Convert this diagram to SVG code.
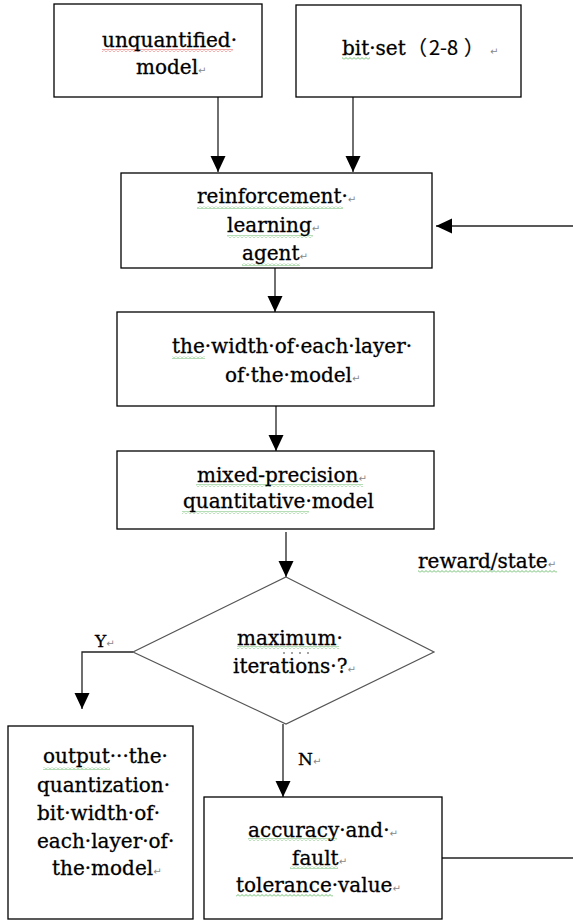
<svg xmlns="http://www.w3.org/2000/svg" width="573" height="924" viewBox="0 0 573 924">
<style>
.box{fill:#fff;stroke:#000;stroke-width:1.3}
.dia{fill:#fff;stroke:#555;stroke-width:1.2}
.t{font-family:"DejaVu Serif","Liberation Serif",serif;font-size:20px;fill:#000;stroke:#000;stroke-width:0.3}
.pm{font-family:"DejaVu Sans",sans-serif;font-size:10px;fill:#888;stroke:none}
.cjk{font-family:"Noto Sans CJK SC","Noto Sans",sans-serif;font-size:20px;stroke-width:0.2}
.ln{fill:none;stroke:#222;stroke-width:1.3}
.wg{fill:url(#wg)}
.wr{fill:url(#wr)}
</style>
<defs>
<marker id="ah" markerUnits="userSpaceOnUse" markerWidth="16" markerHeight="16" viewBox="0 0 16 16" refX="16" refY="8" orient="auto">
<path d="M0,0.5 L16,8 L0,15.5 Z" fill="#000"/>
</marker>
<pattern id="wg" patternUnits="userSpaceOnUse" width="4" height="3">
<path d="M0,2.5 L2,0.5 L4,2.5" fill="none" stroke="#5cb85c" stroke-width="0.9"/>
</pattern>
<pattern id="wr" patternUnits="userSpaceOnUse" width="4" height="3">
<path d="M0,2.5 L2,0.5 L4,2.5" fill="none" stroke="#e53935" stroke-width="0.9"/>
</pattern>
</defs>

<g id="connectors">
<path class="ln" d="M218,97 V172" marker-end="url(#ah)"/>
<path class="ln" d="M353,97 V172" marker-end="url(#ah)"/>
<path class="ln" d="M573,226 H436" marker-end="url(#ah)"/>
<path class="ln" d="M275,268 V312" marker-end="url(#ah)"/>
<path class="ln" d="M276,406 V451" marker-end="url(#ah)"/>
<path class="ln" d="M286,532 V577" marker-end="url(#ah)"/>
<path class="ln" d="M133,652 H82 V709" marker-end="url(#ah)"/>
<path class="ln" d="M283,724 V797" marker-end="url(#ah)"/>
<path class="ln" d="M442,858 H573"/>
</g>

<g id="n1">
<rect class="box" x="54" y="4" width="208" height="93"/>
<rect class="wr" x="102" y="49" width="131" height="3"/>
<text class="t" x="102" y="47">unquantified·</text>
<text class="t" x="136" y="74">model<tspan class="pm">↵</tspan></text>
</g>

<g id="n2">
<rect class="box" x="296" y="5" width="225" height="92"/>
<rect class="wg" x="342" y="57" width="28" height="3"/>
<text class="t" x="342" y="55">bit·set<tspan class="cjk" x="407">（</tspan><tspan class="cjk" x="429">2-8</tspan><tspan class="cjk" x="464">）</tspan><tspan class="pm" x="490">↵</tspan></text>
</g>

<g id="n3">
<rect class="box" x="121" y="173" width="311" height="95"/>
<rect class="wg" x="197" y="206" width="146" height="3"/>
<rect class="wg" x="227" y="235" width="86" height="3"/>
<rect class="wg" x="242" y="263" width="58" height="3"/>
<text class="t" x="197" y="203">reinforcement·<tspan class="pm">↵</tspan></text>
<text class="t" x="227" y="232">learning<tspan class="pm">↵</tspan></text>
<text class="t" x="242" y="260">agent<tspan class="pm">↵</tspan></text>
</g>

<g id="n4">
<rect class="box" x="117" y="312" width="317" height="94"/>
<rect class="wg" x="172" y="356" width="33" height="3"/>
<text class="t" x="172" y="353">the·width·of·each·layer·</text>
<text class="t" x="225" y="382">of·the·model<tspan class="pm">↵</tspan></text>
</g>

<g id="n5">
<rect class="box" x="117" y="451" width="317" height="78"/>
<rect class="wg" x="196" y="484" width="167" height="3"/>
<rect class="wg" x="182" y="511" width="127" height="3"/>
<text class="t" x="197" y="482">mixed-precision<tspan class="pm">↵</tspan></text>
<text class="t" x="183" y="508">quantitative·model</text>
</g>

<g id="lbl-reward">
<rect class="wg" x="418" y="570" width="139" height="3"/>
<text class="t" x="418" y="568">reward/state<tspan class="pm">↵</tspan></text>
</g>

<g id="n6">
<polygon class="dia" points="286,577 434,652 286,724 133,652"/>
<rect class="wg" x="237" y="646" width="102" height="3"/>
<text class="t" x="237" y="645">maximum·</text>
<g fill="#333">
<circle cx="284" cy="653" r="0.8"/>
<circle cx="292" cy="653" r="0.8"/>
<circle cx="300" cy="653" r="0.8"/>
<circle cx="308" cy="653" r="0.8"/>
</g>
<text class="t" x="233" y="673">iterations·?<tspan class="pm">↵</tspan></text>
</g>

<g id="lbl-y">
<text class="t" x="95" y="647" style="font-size:17px">Y<tspan class="pm">↵</tspan></text>
</g>

<g id="n7">
<rect class="box" x="8" y="726" width="185" height="193"/>
<rect class="wg" x="43" y="767" width="67" height="3"/>
<text class="t" x="43" y="763">output···the·</text>
<text class="t" x="37" y="792">quantization·</text>
<text class="t" x="37" y="820">bit·width·of·</text>
<text class="t" x="37" y="848">each·layer·of·</text>
<text class="t" x="52" y="875">the·model<tspan class="pm">↵</tspan></text>
</g>

<g id="lbl-n">
<text class="t" x="298" y="765" style="font-size:17px">N<tspan class="pm">↵</tspan></text>
</g>

<g id="n8">
<rect class="box" x="204" y="797" width="238" height="122"/>
<rect class="wg" x="248" y="838" width="89" height="3"/>
<rect class="wg" x="290" y="866" width="48" height="3"/>
<rect class="wg" x="236" y="894" width="97" height="3"/>
<text class="t" x="248" y="837">accuracy·and·<tspan class="pm">↵</tspan></text>
<text class="t" x="292" y="865">fault<tspan class="pm">↵</tspan></text>
<text class="t" x="236" y="892">tolerance·value<tspan class="pm">↵</tspan></text>
</g>
</svg>
